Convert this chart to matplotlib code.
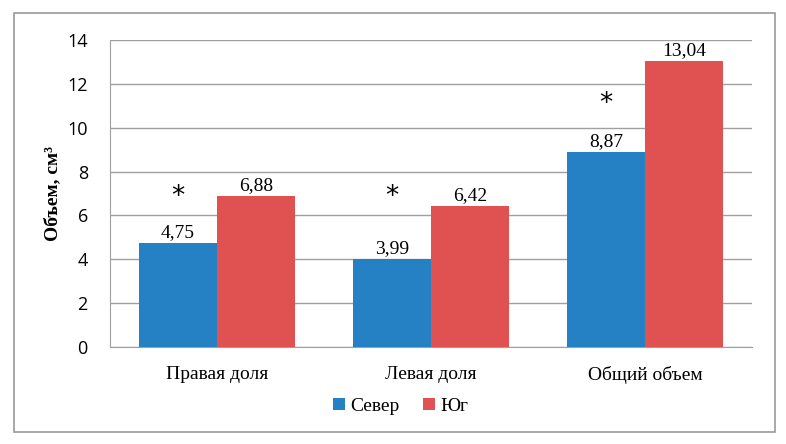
import matplotlib
matplotlib.use("Agg")
import matplotlib.pyplot as plt
import numpy as np
from matplotlib.patches import Rectangle

categories = ["Правая доля", "Левая доля", "Общий объем"]
sever = [4.75, 3.99, 8.87]
yug = [6.88, 6.42, 13.04]
star_y = [6.85, 6.85, 11.1]
series_names = ["Север", "Юг"]

blue = "#2581C4"
red = "#E05252"

fig = plt.figure(figsize=(7.86, 4.44), dpi=100)
fig.patches.append(Rectangle((0.0178, 0.027), 0.968, 0.9437, transform=fig.transFigure,
                             fill=False, edgecolor="#9a9a9a", linewidth=1.2))
ax = fig.add_axes([0.14, 0.2185, 0.8167, 0.6915])

x = np.arange(len(categories))
w = 0.364
b1 = ax.bar(x - w/2, sever, w, color=blue, label=series_names[0], zorder=3)
b2 = ax.bar(x + w/2, yug, w, color=red, label=series_names[1], zorder=3)

serif = "Liberation Serif"
for xi, v in zip(x - w/2, sever):
    ax.text(xi, v + 0.1, f"{v:.2f}".replace(".", ","), ha="center", va="bottom",
            fontsize=14, family=serif)
for xi, v in zip(x + w/2, yug):
    ax.text(xi, v + 0.1, f"{v:.2f}".replace(".", ","), ha="center", va="bottom",
            fontsize=14, family=serif)
for xi, s in zip(x - w/2, star_y):
    ax.text(xi, s, "*", ha="center", va="center", fontsize=19, family="DejaVu Sans")

ax.set_xlim(-0.5, 2.5)
ax.set_ylim(0, 14)
ax.set_yticks(range(0, 15, 2))
ax.grid(axis="y", color="#a0a0a0", linewidth=1, zorder=0)
ax.set_axisbelow(True)
for s in ["top", "right"]:
    ax.spines[s].set_visible(False)
for s in ["left", "bottom"]:
    ax.spines[s].set_color("#a0a0a0")
ax.tick_params(axis="y", length=0, labelsize=13, pad=16)
ax.tick_params(axis="x", length=0, pad=14)
for lab in ax.get_yticklabels():
    lab.set_family("Open Sans")
ax.set_xticks(x)
ax.set_xticklabels(categories, fontsize=14, family=serif)
ax.set_ylabel("Объем, см³", fontsize=14, family=serif, fontweight="bold", labelpad=4)

leg = fig.legend(handles=[b1, b2], loc="center", bbox_to_anchor=(0.51, 0.085), ncol=2,
                 frameon=False, prop={"family": serif, "size": 14}, handlelength=0.6,
                 handleheight=0.6, handletextpad=0.3, columnspacing=1.2)

fig.savefig("out.png", dpi=100)
